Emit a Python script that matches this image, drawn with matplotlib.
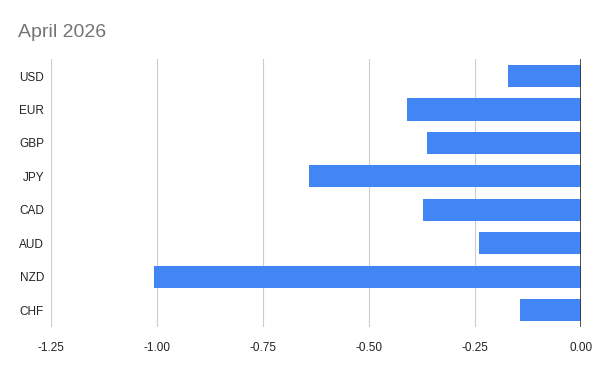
import matplotlib.pyplot as plt

currencies = ['USD', 'EUR', 'GBP', 'JPY', 'CAD', 'AUD', 'NZD', 'CHF']
values = [-0.171, -0.410, -0.363, -0.642, -0.373, -0.241, -1.006, -0.144]
xticks = [-1.25, -1.00, -0.75, -0.50, -0.25, 0.00]

plt.rcParams['font.family'] = ['Liberation Sans', 'DejaVu Sans']

fig = plt.figure(figsize=(6, 3.71), dpi=100)
ax = fig.add_axes([0.085, 0.119, 0.883, 0.721])

ypos = list(range(len(currencies)))
ax.barh(ypos, values, height=0.66, color='#4285f4', zorder=3)
ax.set_yticks(ypos)
ax.set_yticklabels(currencies)
ax.set_ylim(len(currencies) - 0.5, -0.5)

ax.set_xlim(-1.25, 0)
ax.set_xticks(xticks)
ax.set_xticklabels(['%.2f' % t for t in xticks])
ax.grid(axis='x', color='#cccccc', linewidth=0.8, zorder=0)
ax.axvline(0, color='#333333', linewidth=1.2, zorder=4)

for s in ax.spines.values():
    s.set_visible(False)
ax.tick_params(axis='both', length=0, labelsize=8.5, colors='#222222')
ax.tick_params(axis='y', pad=5)
ax.tick_params(axis='x', pad=11)

fig.text(0.03, 0.913, 'April 2026', fontsize=14, color='#757575', va='center')

fig.savefig('out.png', dpi=100)
